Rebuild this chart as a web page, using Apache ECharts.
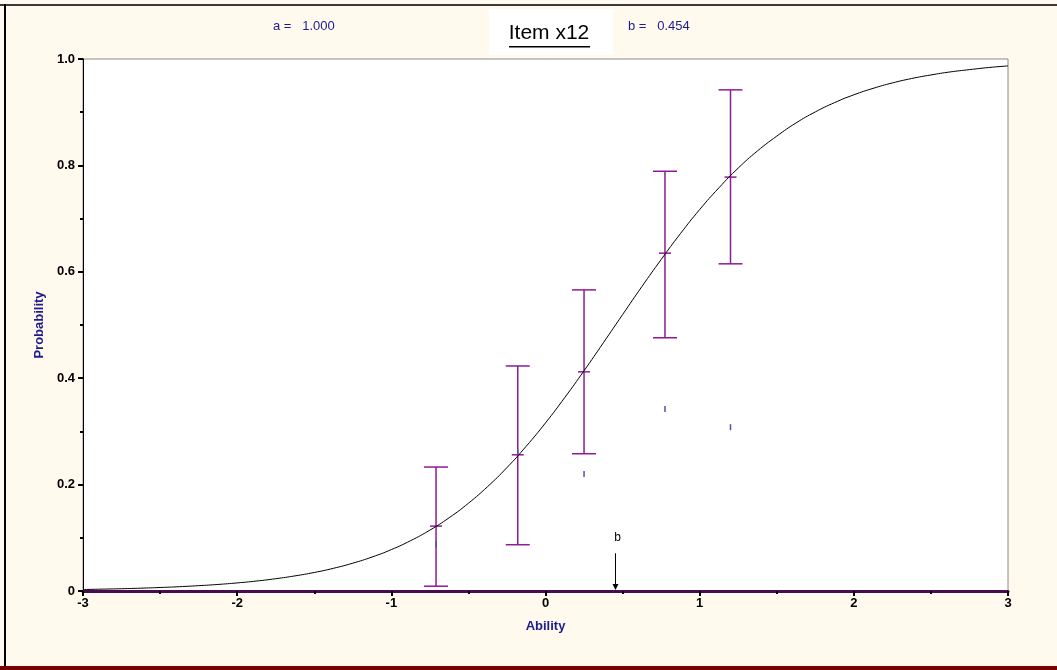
<!DOCTYPE html>
<html>
<head>
<meta charset="utf-8">
<script src="https://cdn.jsdelivr.net/npm/echarts@6/dist/echarts.min.js"></script>
<style>
  html, body { margin: 0; padding: 0; background: #fff; }
  #chart { width: 1057px; height: 670px; }
</style>
</head>
<body>
<div id="chart"></div>
<script>
// item parameters shown in the header
var paramA = 1.000;
var paramB = 0.454;
var itemName = 'Item x12';

// item characteristic curve
var curveX = [-3, -2.875, -2.75, -2.625, -2.5, -2.375, -2.25, -2.125, -2, -1.875, -1.75, -1.625,
              -1.5, -1.375, -1.25, -1.125, -1, -0.875, -0.75, -0.625, -0.5, -0.375, -0.25, -0.125,
              0, 0.125, 0.25, 0.375, 0.5, 0.625, 0.75, 0.875, 1, 1.125, 1.25, 1.375,
              1.5, 1.625, 1.75, 1.875, 2, 2.125, 2.25, 2.375, 2.5, 2.625, 2.75, 2.875, 3];
var curveP = [0.0028, 0.0035, 0.0043, 0.0053, 0.0066, 0.0081, 0.0100, 0.0123, 0.0152, 0.0187, 0.0231, 0.0284,
              0.0348, 0.0427, 0.0523, 0.0639, 0.0778, 0.0946, 0.1144, 0.1377, 0.1650, 0.1964, 0.2320, 0.2721,
              0.3160, 0.3637, 0.4140, 0.4665, 0.5195, 0.5722, 0.6230, 0.6717, 0.7170, 0.7579, 0.7950, 0.8272,
              0.8550, 0.8798, 0.9005, 0.9180, 0.9327, 0.9448, 0.9550, 0.9633, 0.9700, 0.9757, 0.9800, 0.9840, 0.9870];

// ability groups with confidence bars
var groupX   = [-0.71, -0.18, 0.25, 0.775, 1.2];
var barLow   = [0.009, 0.087, 0.258, 0.476, 0.615];
var barMid   = [0.122, 0.256, 0.412, 0.635, 0.778];
var barHigh  = [0.233, 0.423, 0.566, 0.789, 0.942];
var observed = [0.088, 0.261, 0.220, 0.342, 0.308];

var myChart = echarts.init(document.getElementById('chart'));

var curveData = [];
for (var i = 0; i < curveX.length; i++) {
    curveData.push([curveX[i], curveP[i]]);
}
var barData = [];
var obsData = [];
for (var j = 0; j < groupX.length; j++) {
    barData.push([groupX[j], barLow[j], barMid[j], barHigh[j]]);
    obsData.push([groupX[j], observed[j]]);
}

var barColor = '#8e1b92';
var blueText = '#1c1c8e';
var font = 'Liberation Sans, Arial, sans-serif';

option = {
    backgroundColor: '#fff9ee',
    animation: false,
    textStyle: { fontFamily: font },
    grid: {
        left: 83, top: 59, right: 49, bottom: 79,
        show: true,
        backgroundColor: '#ffffff',
        borderColor: '#8a8a8a',
        borderWidth: 1
    },
    graphic: [
        // outer frame
        { type: 'rect', shape: { x: 0, y: 4, width: 1057, height: 2 }, style: { fill: '#3a3a3a' } },
        { type: 'rect', shape: { x: 4, y: 4, width: 2, height: 666 }, style: { fill: '#000' } },
        { type: 'rect', shape: { x: 0, y: 666, width: 1057, height: 4 }, style: { fill: '#7a0000' } },
        // title box
        { type: 'rect', shape: { x: 489, y: 9, width: 124, height: 46 }, style: { fill: '#ffffff' } },
        { type: 'text', x: 549, y: 33, style: {
            text: itemName, fontSize: 21, fill: '#000', align: 'center', verticalAlign: 'middle', fontFamily: font } },
        { type: 'rect', shape: { x: 509, y: 46, width: 81, height: 1.5 }, style: { fill: '#000' } },
        { type: 'text', x: 273, y: 26, style: {
            text: 'a =   ' + paramA.toFixed(3), fontSize: 13, fill: blueText, verticalAlign: 'middle', fontFamily: font } },
        { type: 'text', x: 628, y: 26, style: {
            text: 'b =   ' + paramB.toFixed(3), fontSize: 13, fill: blueText, verticalAlign: 'middle', fontFamily: font } }
    ],
    xAxis: {
        type: 'value',
        min: -3, max: 3, interval: 1,
        name: 'Ability',
        nameLocation: 'middle',
        nameGap: 29,
        nameTextStyle: { color: blueText, fontWeight: 'bold', fontSize: 13 },
        axisLine: { onZero: false, lineStyle: { color: '#4a0a50', width: 3 } },
        axisTick: { length: 5, lineStyle: { color: '#000', width: 2 } },
        minorTick: { show: true, splitNumber: 2, length: 3, lineStyle: { color: '#000', width: 2 } },
        axisLabel: { color: '#000', fontWeight: 'bold', fontSize: 13, margin: 6 },
        splitLine: { show: false }
    },
    yAxis: {
        type: 'value',
        min: 0, max: 1, interval: 0.2,
        name: 'Probability',
        nameLocation: 'middle',
        nameGap: 37,
        nameTextStyle: { color: blueText, fontWeight: 'bold', fontSize: 13 },
        axisLine: { show: true, onZero: false, lineStyle: { color: '#000', width: 1 } },
        axisTick: { length: 5, lineStyle: { color: '#000', width: 2 } },
        minorTick: { show: true, splitNumber: 2, length: 3, lineStyle: { color: '#000', width: 2 } },
        axisLabel: {
            color: '#000', fontWeight: 'bold', fontSize: 13, margin: 8,
            formatter: function (v) { return v === 0 ? '0' : v.toFixed(1); }
        },
        splitLine: { show: false }
    },
    series: [
        {
            name: 'curve',
            type: 'line',
            data: curveData,
            smooth: true,
            symbol: 'none',
            lineStyle: { color: '#000', width: 1 },
            z: 3
        },
        {
            name: 'bars',
            type: 'custom',
            data: barData,
            z: 2,
            renderItem: function (params, api) {
                var x = api.value(0);
                var lo = api.coord([x, api.value(1)]);
                var md = api.coord([x, api.value(2)]);
                var hi = api.coord([x, api.value(3)]);
                var st = { stroke: barColor, lineWidth: 1.5 };
                return {
                    type: 'group',
                    children: [
                        { type: 'line', shape: { x1: lo[0], y1: lo[1], x2: hi[0], y2: hi[1] }, style: st },
                        { type: 'line', shape: { x1: hi[0] - 12, y1: hi[1], x2: hi[0] + 12, y2: hi[1] }, style: st },
                        { type: 'line', shape: { x1: lo[0] - 12, y1: lo[1], x2: lo[0] + 12, y2: lo[1] }, style: st },
                        { type: 'line', shape: { x1: md[0] - 6, y1: md[1], x2: md[0] + 6, y2: md[1] }, style: st }
                    ]
                };
            }
        },
        {
            name: 'observed',
            type: 'custom',
            data: obsData,
            z: 4,
            renderItem: function (params, api) {
                var p = api.coord([api.value(0), api.value(1)]);
                return {
                    type: 'line',
                    shape: { x1: p[0], y1: p[1] - 3, x2: p[0], y2: p[1] + 3 },
                    style: { stroke: '#5050b4', lineWidth: 1.5 }
                };
            }
        },
        {
            name: 'b',
            type: 'custom',
            data: [[paramB]],
            z: 5,
            renderItem: function (params, api) {
                var top = api.coord([api.value(0), 0.071]);
                var bot = api.coord([api.value(0), 0]);
                return {
                    type: 'group',
                    children: [
                        { type: 'line', shape: { x1: top[0], y1: top[1], x2: bot[0], y2: bot[1] - 5 },
                          style: { stroke: '#000', lineWidth: 1 } },
                        { type: 'polygon', shape: { points: [[bot[0] - 3, bot[1] - 7], [bot[0] + 3, bot[1] - 7], [bot[0], bot[1] - 1]] },
                          style: { fill: '#000' } },
                        { type: 'text', x: top[0] + 2, y: top[1] - 16, style: {
                            text: 'b', fontSize: 12, fill: '#000', align: 'center', verticalAlign: 'middle', fontFamily: font } }
                    ]
                };
            }
        }
    ]
};

myChart.setOption(option);
</script>
</body>
</html>
